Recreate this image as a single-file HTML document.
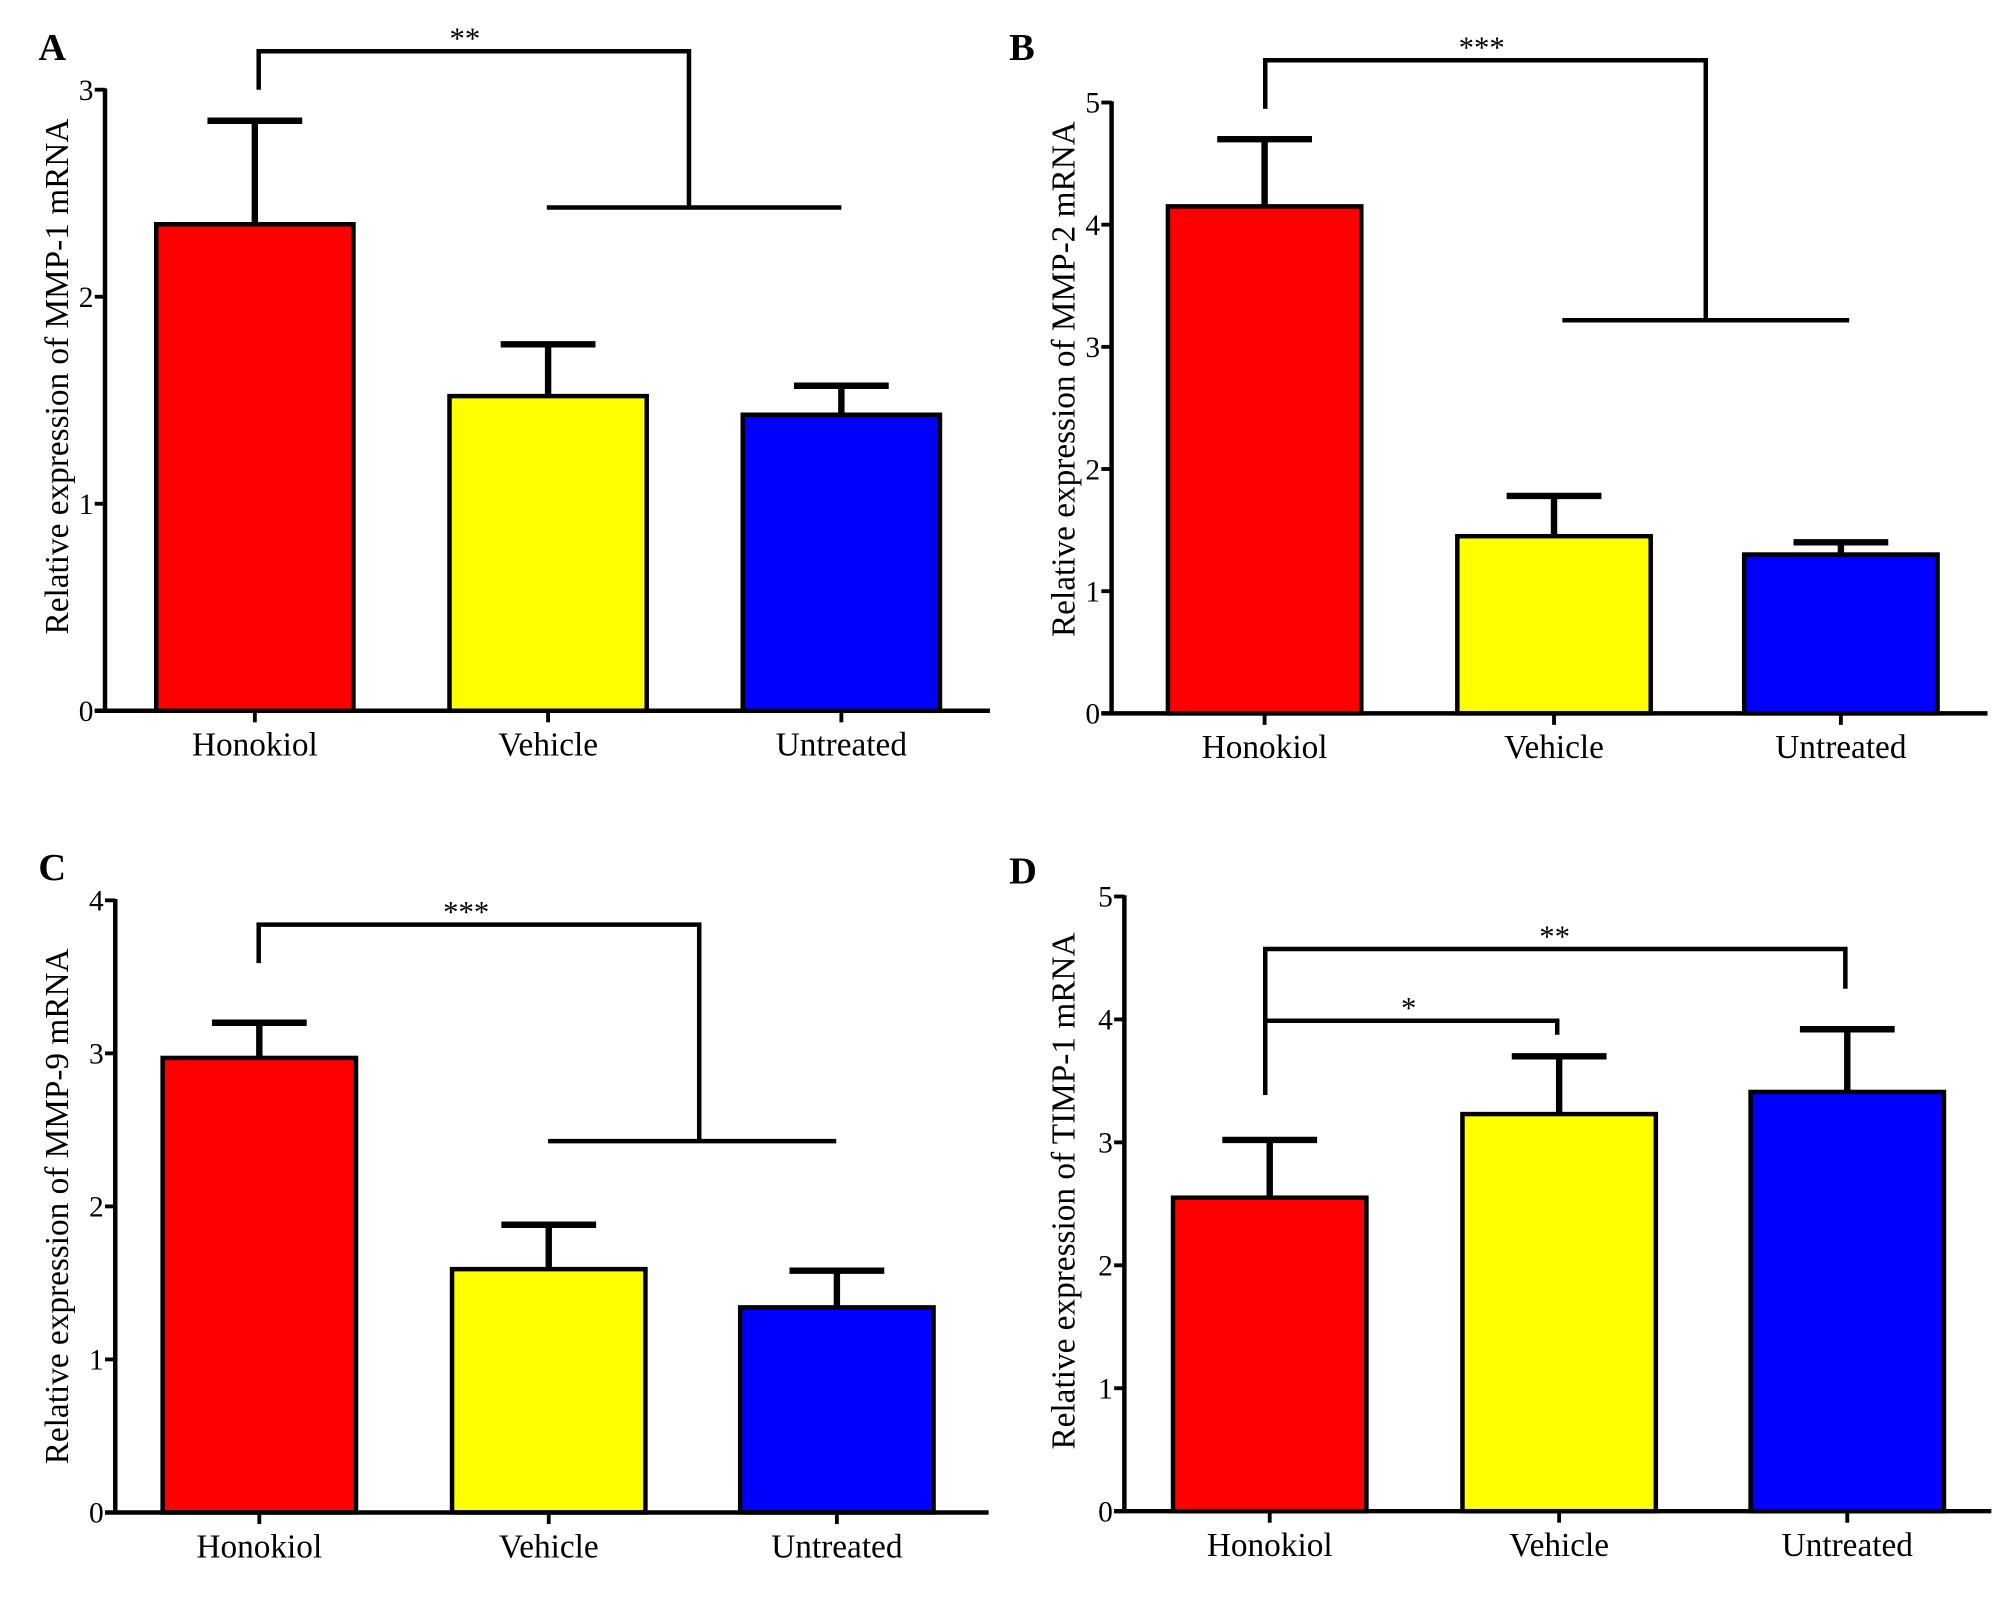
<!DOCTYPE html>
<html><head><meta charset="utf-8"><style>
html,body{margin:0;padding:0;background:#fff;}
svg{display:block;font-family:"Liberation Serif",serif;}
</style></head><body>
<svg id="fig" width="2008" height="1606" viewBox="0 0 1568 1254" xmlns="http://www.w3.org/2000/svg"></svg>
<script>
const categories = ["Honokiol","Vehicle","Untreated"];
const colors = ["#ff0000","#ffff00","#0000ff"];
const valuesA = [2.35, 1.52, 1.43];
const errorsA = [2.85, 1.77, 1.57];
const ticksA = [0,1,2,3];
const valuesB = [4.15, 1.45, 1.30];
const errorsB = [4.70, 1.78, 1.40];
const ticksB = [0,1,2,3,4,5];
const valuesC = [2.97, 1.59, 1.34];
const errorsC = [3.20, 1.88, 1.58];
const ticksC = [0,1,2,3,4];
const valuesD = [2.55, 3.23, 3.41];
const errorsD = [3.02, 3.70, 3.92];
const ticksD = [0,1,2,3,4,5];

const NS = "http://www.w3.org/2000/svg";
const svg = document.getElementById('fig');
function el(tag, attrs, parent, text){
  const e = document.createElementNS(NS, tag);
  for (const k in attrs) e.setAttribute(k, attrs[k]);
  if (text !== undefined) e.textContent = text;
  (parent||svg).appendChild(e);
  return e;
}

const panels = [
 {id:"a", letter:"A", lx:30, ly:47, ax:82, y0:555, yTop:70, ymax:3, xEnd:773, bx:[122,351,580], bw:154, vals:valuesA, errs:errorsA, ticks:ticksA, title:"Relative expression of MMP-1 mRNA", tcx:44, tcy:294,
  brackets:[{type:"group", y:40, x1:202, d1:70, x2:538, d2:162, hx1:427, hx2:657, label:"**", lxp:363}]},
 {id:"b", letter:"B", lx:788, ly:47, ax:868, y0:557, yTop:80, ymax:5, xEnd:1552, bx:[912,1138,1362], bw:151, vals:valuesB, errs:errorsB, ticks:ticksB, title:"Relative expression of MMP-2 mRNA", tcx:830, tcy:296,
  brackets:[{type:"group", y:47, x1:988, d1:85, x2:1332, d2:250, hx1:1220, hx2:1444, label:"***", lxp:1157}]},
 {id:"c", letter:"C", lx:30, ly:687, ax:90, y0:1181, yTop:703, ymax:4, xEnd:772, bx:[127,353,578], bw:151, vals:valuesC, errs:errorsC, ticks:ticksC, title:"Relative expression of MMP-9 mRNA", tcx:44, tcy:942,
  brackets:[{type:"group", y:722, x1:202, d1:752, x2:546, d2:891, hx1:428, hx2:653, label:"***", lxp:364}]},
 {id:"d", letter:"D", lx:788, ly:690, ax:878, y0:1180, yTop:700, ymax:5, xEnd:1555, bx:[916,1142,1367], bw:151, vals:valuesD, errs:errorsD, ticks:ticksD, title:"Relative expression of TIMP-1 mRNA", tcx:830, tcy:930,
  brackets:[{type:"pair", y:741, x1:988, d1:855, x2:1441, d2:772, label:"**", lxp:1214},
            {type:"pair", y:797, x1:988, d1:855, x2:1216, d2:808, label:"*", lxp:1100}]}
];

panels.forEach(p => {
  const g = el('g', {});
  
  
  const yS = v => p.y0 - (v / p.ymax) * (p.y0 - p.yTop);

  const letter = el('text', {x:p.lx, y:p.ly, 'font-size':30, 'font-weight':'bold'}, g, p.letter);
  
  

  p.vals.forEach((v,i) => {
    const r = el('rect', {x:p.bx[i], y:yS(v), width:p.bw, height:p.y0 - yS(v), fill:colors[i], stroke:'#000', 'stroke-width':3.5}, g);
    
    
    const cx = p.bx[i] + p.bw/2;
    const e = el('path', {d:`M${cx} ${yS(v)} V${yS(p.errs[i])} M${cx-37} ${yS(p.errs[i])} H${cx+37}`, stroke:'#000', 'stroke-width':5, fill:'none'}, g);
    
    
  });

  const ya = el('line', {x1:p.ax, y1:p.yTop-1, x2:p.ax, y2:p.y0+1, stroke:'#000', 'stroke-width':3.5}, g);
  
  
  const xa = el('line', {x1:p.ax-8, y1:p.y0, x2:p.xEnd, y2:p.y0, stroke:'#000', 'stroke-width':3.5}, g);
  
  

  p.ticks.forEach(t => {
    el('line', {x1:p.ax-8, y1:yS(t), x2:p.ax, y2:yS(t), stroke:'#000', 'stroke-width':3}, g);
    const tl = el('text', {x:p.ax-9, y:yS(t)+8, 'font-size':23, 'text-anchor':'end'}, g, String(t));
    
    
  });
  categories.forEach((c,i) => {
    const cx = p.bx[i] + p.bw/2;
    el('line', {x1:cx, y1:p.y0, x2:cx, y2:p.y0+9, stroke:'#000', 'stroke-width':3}, g);
    const cl = el('text', {x:cx, y:p.y0+35, 'font-size':26, 'text-anchor':'middle'}, g, c);
    
    
  });

  const tt = el('text', {x:p.tcx, y:p.tcy, 'font-size':26, 'text-anchor':'middle', transform:`rotate(-90 ${p.tcx} ${p.tcy})`, dy:9}, g, p.title);
  
  

  p.brackets.forEach((b,k) => {
    let d;
    if (b.type === 'group') d = `M${b.x1} ${b.d1} V${b.y} H${b.x2} V${b.d2} M${b.hx1} ${b.d2} H${b.hx2}`;
    else d = `M${b.x1} ${b.d1} V${b.y} H${b.x2} V${b.d2}`;
    const br = el('path', {d, stroke:'#000', 'stroke-width':3.5, fill:'none'}, g);
    
    
    const st = el('text', {x:b.lxp, y:b.y-2, 'font-size':24, 'text-anchor':'middle'}, g, b.label);
    
    
  });
});
</script>
</body></html>
